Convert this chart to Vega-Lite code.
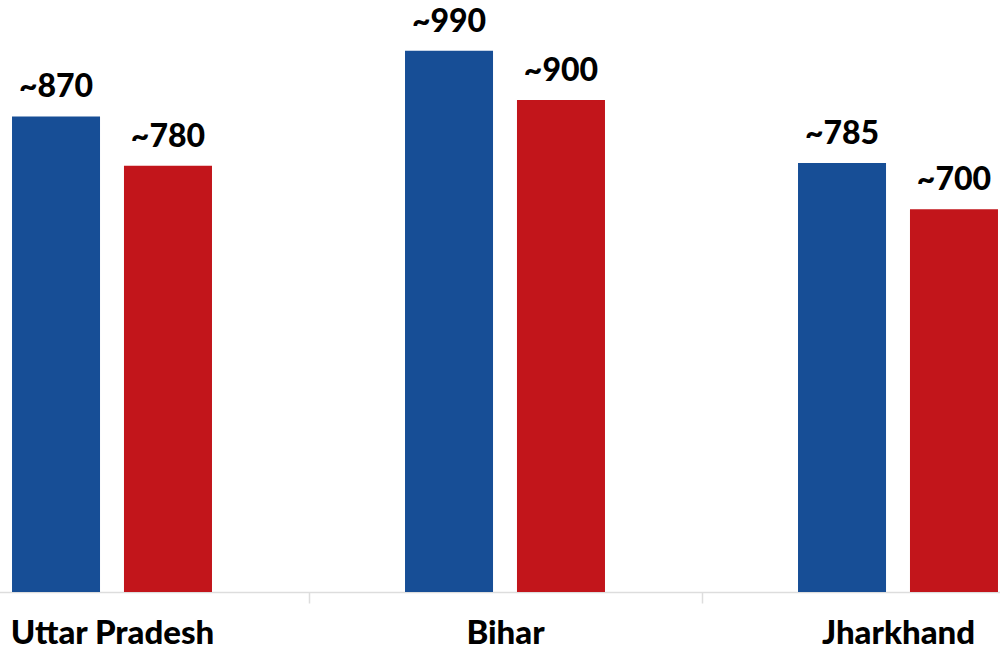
{
  "$schema": "https://vega.github.io/schema/vega-lite/v6.json",
  "width": 1000,
  "height": 592,
  "autosize": {"type": "none"},
  "padding": {"left": 0, "top": 0, "right": 0, "bottom": 59},
  "background": "white",
  "config": {
    "view": {"stroke": null},
    "font": "Lato"
  },
  "data": {
    "values": [
      {"state": "Uttar Pradesh", "series": "A", "value": 870, "label": "~870"},
      {"state": "Uttar Pradesh", "series": "B", "value": 780, "label": "~780"},
      {"state": "Bihar", "series": "A", "value": 990, "label": "~990"},
      {"state": "Bihar", "series": "B", "value": 900, "label": "~900"},
      {"state": "Jharkhand", "series": "A", "value": 785, "label": "~785"},
      {"state": "Jharkhand", "series": "B", "value": 700, "label": "~700"}
    ]
  },
  "encoding": {
    "x": {
      "field": "state",
      "type": "nominal",
      "sort": ["Uttar Pradesh", "Bihar", "Jharkhand"],
      "scale": {"range": [-84.5, 1094.5], "paddingInner": 0, "paddingOuter": 0},
      "axis": {
        "title": null,
        "labelAngle": 0,
        "labelFont": "Lato",
        "labelFontWeight": 900,
        "labelFontSize": 33,
        "labelLimit": 0,
        "labelColor": "#000000",
        "labelPadding": 14,
        "tickBand": "extent",
        "tickSize": 11,
        "tickColor": "#dddddd",
        "tickWidth": 1.5,
        "domainColor": "#dddddd",
        "domainWidth": 1.5,
        "grid": false
      }
    },
    "xOffset": {
      "field": "series",
      "type": "nominal",
      "scale": {"paddingInner": 0.214, "paddingOuter": 0.862}
    },
    "y": {
      "field": "value",
      "type": "quantitative",
      "scale": {"domain": [0, 1083], "nice": false, "zero": true},
      "axis": null
    }
  },
  "layer": [
    {
      "mark": {"type": "bar"},
      "encoding": {
        "color": {
          "field": "series",
          "type": "nominal",
          "scale": {"domain": ["A", "B"], "range": ["#174E96", "#C2151B"]},
          "legend": null
        }
      }
    },
    {
      "mark": {
        "type": "text",
        "baseline": "alphabetic",
        "align": "center",
        "dy": -19,
        "font": "Lato",
        "fontWeight": 900,
        "fontSize": 32,
        "color": "#000000"
      },
      "encoding": {
        "text": {"field": "label"}
      }
    }
  ]
}
